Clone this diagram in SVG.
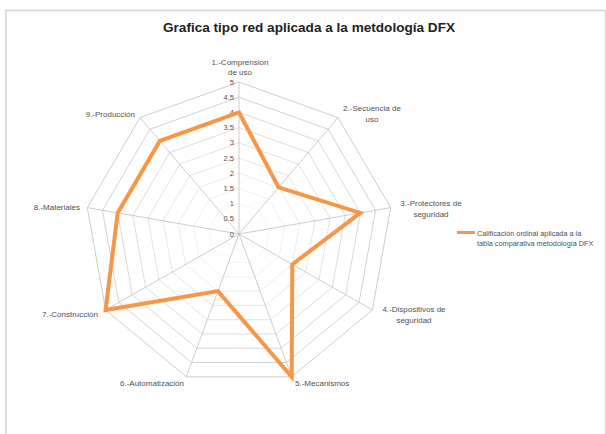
<svg xmlns="http://www.w3.org/2000/svg" xmlns:xlink="http://www.w3.org/1999/xlink" width="606" height="434" viewBox="0 0 606 434">
<style>
.grid{fill:none;stroke:#c0c0c0;stroke-width:0.8;vector-effect:non-scaling-stroke}
.spoke{stroke:#c0c0c0;stroke-width:0.8}
.lbl{font-family:"Liberation Sans",Arial,sans-serif;font-size:8px;fill:#505050}
.tick{font-family:"Liberation Sans",Arial,sans-serif;font-size:7.5px;fill:#505050;text-anchor:end}
.title{font-family:"Liberation Sans",Arial,sans-serif;font-size:13px;font-weight:bold;fill:#222}
.series{fill:none;stroke:#F79646;stroke-width:4;stroke-linejoin:miter}
</style>
<defs>
<polygon id="ring" points="0,-152 99,-116.4 151.7,-26.4 133.4,76 52.7,142.8 -52.7,142.8 -133.4,76 -151.7,-26.4 -99,-116.4"/>
</defs>
<rect x="0" y="0" width="606" height="434" fill="#ffffff"/>
<path d="M6,434 V10.5 H605.5 V434" fill="none" stroke="#d4d4d4" stroke-width="1.5"/>
<text class="title" x="309" y="32" text-anchor="middle" textLength="292" lengthAdjust="spacingAndGlyphs">Grafica tipo red aplicada a la metdología DFX</text>
<g id="grid">
<use xlink:href="#ring" class="grid" transform="translate(239,234) scale(0.1)"/>
<use xlink:href="#ring" class="grid" transform="translate(239,234) scale(0.2)"/>
<use xlink:href="#ring" class="grid" transform="translate(239,234) scale(0.3)"/>
<use xlink:href="#ring" class="grid" transform="translate(239,234) scale(0.4)"/>
<use xlink:href="#ring" class="grid" transform="translate(239,234) scale(0.5)"/>
<use xlink:href="#ring" class="grid" transform="translate(239,234) scale(0.6)"/>
<use xlink:href="#ring" class="grid" transform="translate(239,234) scale(0.7)"/>
<use xlink:href="#ring" class="grid" transform="translate(239,234) scale(0.8)"/>
<use xlink:href="#ring" class="grid" transform="translate(239,234) scale(0.9)"/>
<use xlink:href="#ring" class="grid" transform="translate(239,234)"/>
<g class="spoke">
<line x1="239" y1="234" x2="239" y2="82"/>
<line x1="239" y1="234" x2="338" y2="117.6"/>
<line x1="239" y1="234" x2="390.7" y2="207.6"/>
<line x1="239" y1="234" x2="372.4" y2="310"/>
<line x1="239" y1="234" x2="291.7" y2="376.8"/>
<line x1="239" y1="234" x2="186.3" y2="376.8"/>
<line x1="239" y1="234" x2="105.6" y2="310"/>
<line x1="239" y1="234" x2="87.3" y2="207.6"/>
<line x1="239" y1="234" x2="140" y2="117.6"/>
</g>
</g>
<g id="ticks">
<text class="tick" x="234" y="236.5">0</text>
<text class="tick" x="234" y="221.3">0.5</text>
<text class="tick" x="234" y="206.1">1</text>
<text class="tick" x="234" y="190.9">1.5</text>
<text class="tick" x="234" y="175.7">2</text>
<text class="tick" x="234" y="160.5">2.5</text>
<text class="tick" x="234" y="145.3">3</text>
<text class="tick" x="234" y="130.1">3.5</text>
<text class="tick" x="234" y="114.9">4</text>
<text class="tick" x="234" y="99.7">4.5</text>
<text class="tick" x="234" y="84.5">5</text>
</g>
<g id="axis1"><text class="lbl" x="240" y="64.5" text-anchor="middle">1.-Comprension</text><text class="lbl" x="240" y="74.5" text-anchor="middle">de uso</text></g>
<g id="axis2"><text class="lbl" x="372" y="111" text-anchor="middle">2.-Secuencia de</text><text class="lbl" x="372" y="121.5" text-anchor="middle">uso</text></g>
<g id="axis3"><text class="lbl" x="431" y="206" text-anchor="middle">3.-Protectores de</text><text class="lbl" x="431" y="216.5" text-anchor="middle">seguridad</text></g>
<g id="axis4"><text class="lbl" x="414" y="312" text-anchor="middle">4.-Dispositivos de</text><text class="lbl" x="414" y="322.5" text-anchor="middle">seguridad</text></g>
<g id="axis5"><text class="lbl" x="295" y="386">5.-Mecanismos</text></g>
<g id="axis6"><text class="lbl" x="184" y="386" text-anchor="end">6.-Automatización</text></g>
<g id="axis7"><text class="lbl" x="98" y="316.5" text-anchor="end">7.-Construcción</text></g>
<g id="axis8"><text class="lbl" x="80" y="210" text-anchor="end">8.-Materiales</text></g>
<g id="axis9"><text class="lbl" x="135" y="116.5" text-anchor="end">9.-Producción</text></g>
<g id="connectors">
<polygon class="series" points="239,112.4 278.6,187.4 360.3,212.9 292.3,264.4 291.7,376.8 217.9,291.1 105.6,310 117.7,212.9 159.8,140.9"/>
</g>
<g id="legend">
<line x1="457" y1="232.5" x2="475" y2="232.5" stroke="#F79646" stroke-width="3"/>
<text class="lbl" x="477" y="235.5" style="font-size:7.3px">Calificación ordinal aplicada a la</text>
<text class="lbl" x="477" y="245.5" style="font-size:7.3px">tabla comparativa metodología DFX</text>
</g>
</svg>
